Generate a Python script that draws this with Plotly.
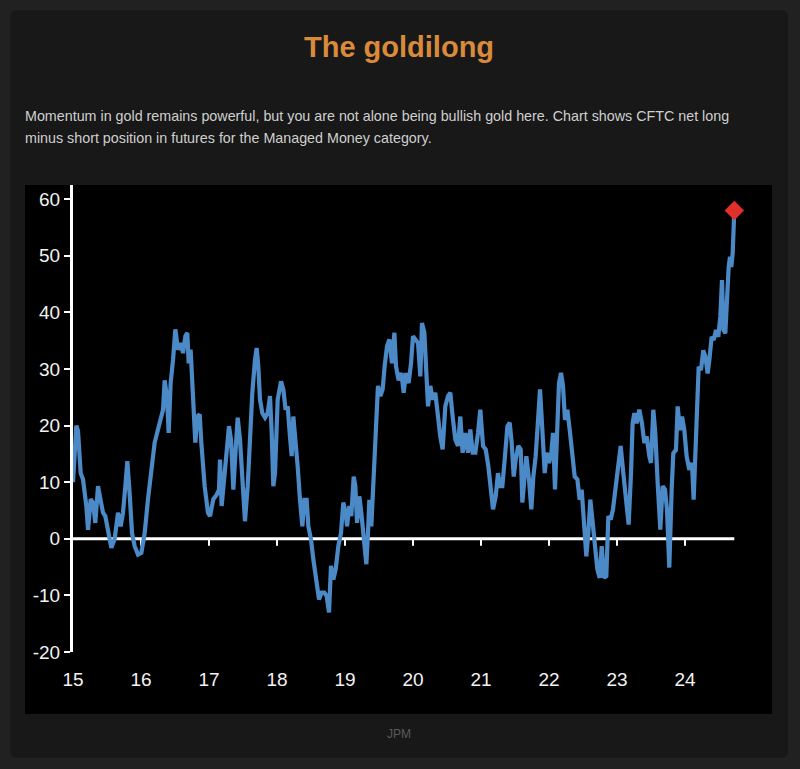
import plotly.graph_objects as go

# ---------------- data ----------------
years = [
    2015.000, 2015.049, 2015.074, 2015.113, 2015.147, 2015.196, 2015.221, 2015.260, 2015.294, 2015.328,
    2015.368, 2015.407, 2015.441, 2015.475, 2015.515, 2015.564, 2015.613, 2015.662, 2015.701, 2015.735,
    2015.770, 2015.799, 2015.833, 2015.868, 2015.907, 2015.956, 2016.005, 2016.054, 2016.103, 2016.152,
    2016.201, 2016.250, 2016.289, 2016.324, 2016.348, 2016.382, 2016.407, 2016.436, 2016.471, 2016.505,
    2016.544, 2016.583, 2016.618, 2016.652, 2016.681, 2016.701, 2016.730, 2016.750, 2016.779, 2016.799,
    2016.828, 2016.863, 2016.887, 2016.936, 2016.985,
    2017.015, 2017.064, 2017.113, 2017.147, 2017.162, 2017.186, 2017.211, 2017.260, 2017.294, 2017.324,
    2017.358, 2017.392, 2017.422, 2017.456, 2017.490, 2017.529, 2017.569, 2017.603, 2017.637, 2017.676,
    2017.701, 2017.725, 2017.750, 2017.784, 2017.824, 2017.863, 2017.897, 2017.922, 2017.946, 2017.971,
    2018.010, 2018.059, 2018.093, 2018.127, 2018.157, 2018.191, 2018.216, 2018.240, 2018.275, 2018.304,
    2018.338, 2018.373, 2018.402, 2018.436, 2018.461, 2018.500, 2018.534, 2018.559, 2018.583, 2018.618,
    2018.657, 2018.696, 2018.730, 2018.765, 2018.794, 2018.828, 2018.863, 2018.902, 2018.941, 2018.975,
    2019.010,
    2019.030, 2019.064, 2019.093, 2019.128, 2019.152, 2019.177, 2019.211, 2019.240, 2019.260, 2019.289,
    2019.314, 2019.338, 2019.358, 2019.387, 2019.422, 2019.456, 2019.485, 2019.520, 2019.554, 2019.583,
    2019.618, 2019.652, 2019.691, 2019.726, 2019.750, 2019.789, 2019.829, 2019.863, 2019.897, 2019.936,
    2019.971, 2020.000, 2020.034, 2020.074, 2020.108, 2020.132, 2020.167, 2020.191, 2020.221, 2020.255,
    2020.289, 2020.328, 2020.368, 2020.402, 2020.436, 2020.475, 2020.515, 2020.549, 2020.583, 2020.623,
    2020.662, 2020.696, 2020.730, 2020.770, 2020.809, 2020.843, 2020.878, 2020.917, 2020.956, 2020.990,
    2021.030, 2021.069, 2021.108, 2021.143, 2021.177, 2021.216, 2021.250, 2021.279, 2021.314, 2021.353,
    2021.388, 2021.422, 2021.451, 2021.481, 2021.510, 2021.549, 2021.584, 2021.608, 2021.638, 2021.667,
    2021.706, 2021.740, 2021.770, 2021.804, 2021.839, 2021.868, 2021.902, 2021.937, 2021.966, 2022.000,
    2022.035, 2022.059, 2022.088, 2022.113, 2022.147, 2022.177, 2022.206, 2022.235, 2022.270, 2022.304,
    2022.343, 2022.378, 2022.417, 2022.451, 2022.481, 2022.515, 2022.549, 2022.578, 2022.608, 2022.638,
    2022.677, 2022.711, 2022.745, 2022.775, 2022.809, 2022.843, 2022.873, 2022.907, 2022.941, 2022.981,
    2023.020, 2023.054,
    2023.093, 2023.132, 2023.171, 2023.206, 2023.230, 2023.255, 2023.289, 2023.328, 2023.367, 2023.402,
    2023.436, 2023.475, 2023.500, 2023.534, 2023.563, 2023.598, 2023.637, 2023.671, 2023.706, 2023.735,
    2023.769, 2023.804, 2023.828, 2023.867, 2023.892, 2023.926, 2023.956, 2023.990, 2024.024, 2024.063,
    2024.103, 2024.127, 2024.152, 2024.176, 2024.201, 2024.235, 2024.269, 2024.299, 2024.333, 2024.358,
    2024.392, 2024.421, 2024.456, 2024.490, 2024.519, 2024.544, 2024.564, 2024.593, 2024.618, 2024.642,
    2024.662, 2024.681, 2024.701, 2024.716, 2024.725,
]

net_long = [
    10, 20, 19, 11.6, 10.5, 5.8, 1.6, 7, 6.4, 2.8,
    9.3, 7, 4.6, 4, 1, -1.6, 0, 4.6, 2.2, 4.6,
    9.3, 13.7, 8, 1, -1.3, -2.8, -2.5, 1, 7, 12.8,
    17, 19.3, 21.6, 22.8, 28, 25, 18.7, 27.5, 31.6, 37,
    33.4, 34.6, 32.8, 35.8, 36.4, 31, 33.4, 27.5, 21.6, 17,
    21.6, 22, 17, 9.3, 4.6,
    4, 7, 7.8, 8.7, 14, 5.8, 9.3, 15.2, 19.9, 17.5,
    8.7, 15.8, 21.4, 17.5, 9.3, 3.1, 9.3, 18.7, 25.8, 31.6,
    33.7, 30.5, 24.6, 22.2, 21.4, 22.2, 25.2, 18.7, 9.3, 11.6,
    24.6, 27.8, 26.4, 22.8, 23.4, 18, 14.6, 21.6, 17.5, 12.8,
    6.9, 2.2, 6.9, 6.9, 2.2, -0.1, -3.6, -6, -8.4, -10.7,
    -9.5, -9.5, -10.1, -13, -4.8, -7.2, -5.4, -1.3, 1, 6.4,
    4.6,
    2.2, 5.8, 4, 11, 9.3, 2.8, 7.5, 4.6, 1.6, -1.9,
    -4.5, 1, 6.9, 2.2, 9.9, 18.7, 27, 25.2, 26.4, 30.5,
    34, 35.2, 31, 36.4, 30.5, 28, 29.3, 25.8, 29.3, 27.5,
    31, 35.8, 35.2, 34.6, 28.7, 38.1, 36.4, 28.7, 23.4, 27,
    24.6, 25.8, 21, 18, 15.8, 23.4, 25.2, 25.8, 21.6, 17.5,
    16.4, 21.6, 15.2, 18.7, 15.2, 19.3, 15.2, 15.2, 18.7, 22.8,
    16.4, 15.8, 12.8, 9.3, 5.2, 7.5, 11.6, 9.3, 9.3, 14.6,
    19.9, 20.5, 17, 11, 14, 16.4, 15.8, 6.4, 11.6, 14.6,
    10.5, 5.2, 11, 14.6, 21, 26.4, 19.3, 11.6, 15.2, 13.4,
    15.2, 18.7, 8.7, 18.7, 27.5, 29.3, 27, 21, 22.8, 19.3,
    14, 11, 10.5, 6.9, 8.7, 2.2, -3.1, 1, 6.9, 3.4,
    -1.3, -5.4, -6.9, -1.3, -6.9, -6.6, 4, 3.4, 5.2, 9.3,
    12.8, 16.4,
    11.6, 6.3, 2.5, 11.6, 20.4, 22.2, 20.4, 22.8, 20.4, 16.9,
    18.1, 14.6, 13.4, 22.8, 18.7, 9.9, 1.6, 9.3, 8.7, 5.2,
    -5.1, 8.7, 15.1, 15.7, 23.4, 19.2, 21.6, 19.2, 14.6, 12.2,
    13.4, 6.9, 14.6, 23.4, 30.4, 29.8, 33.3, 32.2, 29.2, 31.6,
    35.7, 35.1, 36.9, 35.7, 39.2, 45.7, 36.9, 36.3, 43.9, 48,
    49.8, 48, 50.4, 56.8, 58,
]

x_tick_years = [2015, 2016, 2017, 2018, 2019, 2020, 2021, 2022, 2023, 2024]
x_tick_labels = ["15", "16", "17", "18", "19", "20", "21", "22", "23", "24"]
y_ticks = [-20, -10, 0, 10, 20, 30, 40, 50, 60]
y_tick_labels = ["-20", "-10", "0", "10", "20", "30", "40", "50", "60"]

title_text = "The goldilong"
subtitle_1 = ("Momentum in gold remains powerful, but you are not alone being bullish gold here. "
              "Chart shows CFTC net long")
subtitle_2 = "minus short position in futures for the Managed Money category."
source_text = "JPM"

# ---------------- layout geometry (pixels) ----------------
W, H = 800, 769
PL, PR, PT, PB = 73, 772, 185, 652  # plot area edges in pixels
X0 = 2015.0
X1 = X0 + (PR - PL) / 68.0
Y_LO, Y_HI = -20.0, 62.5


def fx(p):
    return (p - PL) / (PR - PL)


def fy(p):
    return (PB - p) / (PB - PT)


FONT = "Liberation Sans, Arial, Helvetica, sans-serif"

fig = go.Figure()

fig.add_trace(go.Scatter(
    x=years, y=net_long, mode="lines",
    line=dict(color="#4b89c7", width=4.2),
    hoverinfo="skip", showlegend=False,
))
fig.add_trace(go.Scatter(
    x=[years[-1]], y=[net_long[-1]], mode="markers",
    marker=dict(symbol="diamond", size=15, color="#e0302b"),
    hoverinfo="skip", showlegend=False,
))

shapes = []
# outer card with rounded corners
r = 7
cx0, cx1, cy0, cy1 = 10, 788, 10, 758
path = (
    f"M {fx(cx0 + r)},{fy(cy0)} L {fx(cx1 - r)},{fy(cy0)} "
    f"Q {fx(cx1)},{fy(cy0)} {fx(cx1)},{fy(cy0 + r)} "
    f"L {fx(cx1)},{fy(cy1 - r)} Q {fx(cx1)},{fy(cy1)} {fx(cx1 - r)},{fy(cy1)} "
    f"L {fx(cx0 + r)},{fy(cy1)} Q {fx(cx0)},{fy(cy1)} {fx(cx0)},{fy(cy1 - r)} "
    f"L {fx(cx0)},{fy(cy0 + r)} Q {fx(cx0)},{fy(cy0)} {fx(cx0 + r)},{fy(cy0)} Z"
)
shapes.append(dict(type="path", xref="paper", yref="paper", path=path,
                   fillcolor="#181818", line=dict(width=0), layer="below"))
# black chart panel
shapes.append(dict(type="rect", xref="paper", yref="paper",
                   x0=fx(25), x1=fx(772), y0=fy(714), y1=fy(185),
                   fillcolor="#000000", line=dict(width=0), layer="below"))
# zero line up to the last observation
shapes.append(dict(type="line", xref="x", yref="y", x0=years[0], x1=years[-1], y0=0, y1=0,
                   line=dict(color="#ffffff", width=3), layer="below"))
# small year ticks on the zero line
for yr in x_tick_years[1:]:
    shapes.append(dict(type="line", xref="x", yref="y", ysizemode="pixel", yanchor=0,
                       x0=yr, x1=yr, y0=0, y1=-7,
                       line=dict(color="#ffffff", width=2), layer="below"))

annotations = [
    dict(text=f"<b>{title_text}</b>", xref="paper", yref="paper", x=fx(399), y=fy(47),
         xanchor="center", yanchor="middle", showarrow=False,
         font=dict(family=FONT, size=29, color="#d98b3b")),
    dict(text=subtitle_1, xref="paper", yref="paper", x=fx(23), y=fy(116),
         xanchor="left", yanchor="middle", showarrow=False,
         font=dict(family=FONT, size=14.3, color="#cfcfcf")),
    dict(text=subtitle_2, xref="paper", yref="paper", x=fx(23), y=fy(138),
         xanchor="left", yanchor="middle", showarrow=False,
         font=dict(family=FONT, size=14.3, color="#cfcfcf")),
    dict(text=source_text, xref="paper", yref="paper", x=fx(399), y=fy(734),
         xanchor="center", yanchor="middle", showarrow=False,
         font=dict(family=FONT, size=12, color="#5a5a5a")),
]

fig.update_layout(
    width=W, height=H,
    margin=dict(l=PL, r=W - PR, t=PT, b=H - PB, pad=0),
    paper_bgcolor="#212121",
    plot_bgcolor="#000000",
    shapes=shapes,
    annotations=annotations,
    showlegend=False,
    xaxis=dict(
        range=[X0, X1], tickmode="array", tickvals=x_tick_years, ticktext=x_tick_labels,
        showgrid=False, zeroline=False, showline=False, ticks="",
        ticklabelstandoff=14,
        tickfont=dict(family=FONT, size=19, color="#f2f2f2"),
        fixedrange=True,
    ),
    yaxis=dict(
        range=[Y_LO, Y_HI], tickmode="array", tickvals=y_ticks, ticktext=y_tick_labels,
        showgrid=False, zeroline=False, showline=True, linecolor="#ffffff", linewidth=3,
        ticks="outside", ticklen=6, tickwidth=2, tickcolor="#ffffff",
        tickfont=dict(family=FONT, size=19, color="#f2f2f2"),
        fixedrange=True,
    ),
)

fig.write_html(
    "out.html",
    config={"displayModeBar": False},
    post_script="document.body.style.margin='0';document.body.style.background='#212121';"
                "document.body.style.overflow='hidden';",
)
